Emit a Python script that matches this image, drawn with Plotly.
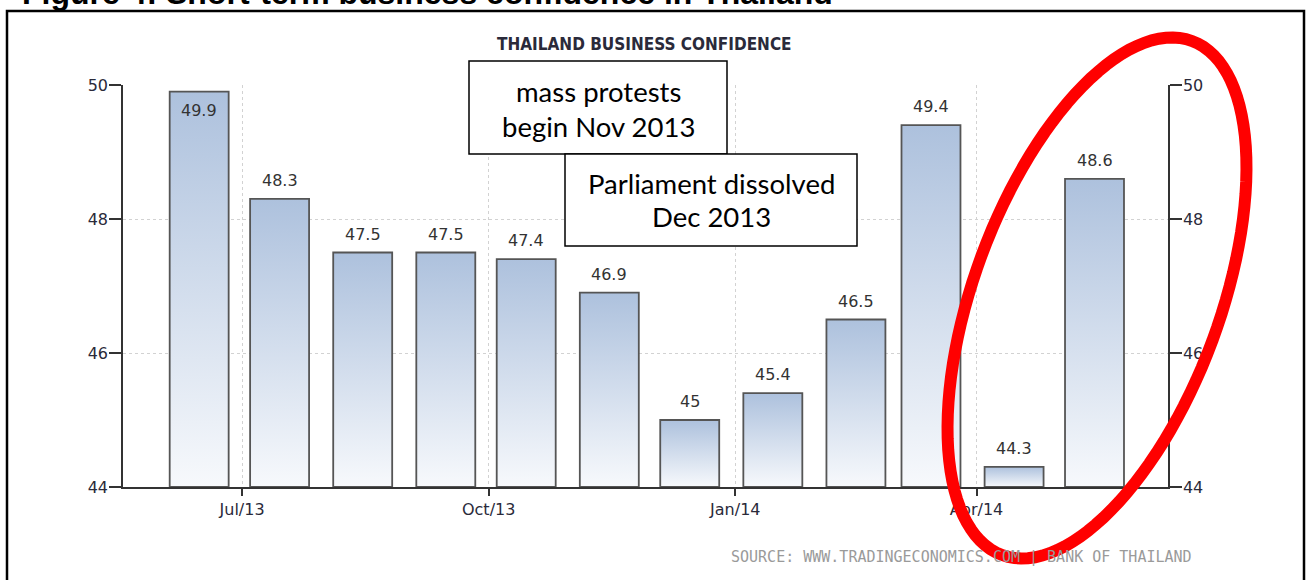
import math
import pandas as pd
import plotly.graph_objects as go

# ---------------- data ----------------
months = ["2013-06-15", "2013-07-15", "2013-08-15", "2013-09-15", "2013-10-15", "2013-11-15",
          "2013-12-15", "2014-01-15", "2014-02-15", "2014-03-15", "2014-04-15", "2014-05-15"]
values = [49.9, 48.3, 47.5, 47.5, 47.4, 46.9, 45.0, 45.4, 46.5, 49.4, 44.3, 48.6]
tick_dates = ["2013-07-01", "2013-10-01", "2014-01-01", "2014-04-01"]
tick_labels = ["Jul/13", "Oct/13", "Jan/14", "Apr/14"]
y_ticks = [44, 46, 48, 50]
chart_title = "THAILAND BUSINESS CONFIDENCE"
figure_heading = "Figure 4: Short-term business confidence in Thailand"
source_text = "SOURCE: WWW.TRADINGECONOMICS.COM | BANK OF THAILAND"
note1 = ["mass protests", "begin Nov 2013"]
note2 = ["Parliament dissolved", "Dec 2013"]

# ---------------- layout geometry ----------------
W, H = 1307, 580
L, R, T, B = 123, 1168, 85, 487
Y0, Y1 = 44, 50
X_RANGE = ["2013-05-17 14:00", "2014-06-11 10:00"]
HALF_BAR = pd.Timedelta(hours=11 * 24)


def xp(px):
    return (px - L) / (R - L)


def yp(py):
    return (B - py) / (B - T)


fig = go.Figure()

# bars drawn as filled polygons with a vertical gradient
for m, v in zip(months, values):
    c = pd.Timestamp(m)
    x0, x1 = c - HALF_BAR, c + HALF_BAR
    fig.add_trace(go.Scatter(
        x=[x0, x0, x1, x1, x0], y=[Y0, v, v, Y0, Y0],
        mode="lines", fill="toself",
        fillgradient=dict(type="vertical",
                          colorscale=[[0, "#f7f9fc"], [1, "#adc1dd"]]),
        line=dict(color="#555555", width=1.8),
        hoverinfo="skip", showlegend=False,
    ))

# invisible trace to anchor the right axis
fig.add_trace(go.Scatter(x=months, y=values, yaxis="y2", mode="markers",
                         marker=dict(opacity=0), hoverinfo="skip", showlegend=False))

# value labels
for i, (m, v) in enumerate(zip(months, values)):
    inside = v > Y1 - 0.3
    fig.add_annotation(
        x=m, y=v, xref="x", yref="y", text=f"{v:g}", showarrow=False,
        yanchor="top" if inside else "bottom", yshift=-7 if inside else 7,
        font=dict(family="DejaVu Sans", size=16, color="#333333"),
    )

tick_font = dict(family="DejaVu Sans", size=16, color="#2a2a3a")
fig.update_layout(
    width=W, height=H,
    margin=dict(l=L, r=W - R, t=T, b=H - B, pad=0),
    paper_bgcolor="white", plot_bgcolor="white",
    xaxis=dict(
        type="date", range=X_RANGE,
        tickvals=tick_dates, ticktext=tick_labels,
        showgrid=True, gridcolor="#d2d2d2", griddash="dot", gridwidth=1,
        showline=True, linecolor="#333333", linewidth=1.5,
        ticks="outside", ticklen=7, tickwidth=1.5, tickcolor="#333333",
        tickfont=tick_font, zeroline=False, fixedrange=True,
    ),
    yaxis=dict(
        range=[Y0, Y1], tickvals=y_ticks,
        showgrid=True, gridcolor="#d2d2d2", griddash="dot", gridwidth=1,
        showline=True, linecolor="#333333", linewidth=1.5,
        ticks="outside", ticklen=12, tickwidth=1.5, tickcolor="#333333",
        ticklabelstandoff=-2,
        tickfont=tick_font, zeroline=False,
    ),
    yaxis2=dict(
        range=[Y0, Y1], tickvals=y_ticks, overlaying="y", side="right",
        showgrid=False, showline=True, linecolor="#333333", linewidth=1.5,
        ticks="outside", ticklen=12, tickwidth=1.5, tickcolor="#333333",
        ticklabelstandoff=-2,
        tickfont=tick_font, zeroline=False,
    ),
    showlegend=False,
)

# chart title
fig.add_annotation(x=xp(644), y=yp(44), xref="paper", yref="paper", text=f"<b>{chart_title}</b>",
                   showarrow=False, xanchor="center", yanchor="middle",
                   font=dict(family="DejaVu Sans Condensed", size=17, color="#2a2a3a"))

# source
fig.add_annotation(x=xp(1194), y=yp(557), xref="paper", yref="paper", text=source_text,
                   showarrow=False, xanchor="right", yanchor="middle",
                   font=dict(family="DejaVu Sans Mono", size=15, color="#9a9a9a"))

# figure heading (partially cut at the top)
fig.add_annotation(x=xp(20), y=yp(-7), xref="paper", yref="paper", text=f"<b>{figure_heading}</b>",
                   showarrow=False, xanchor="left", yanchor="middle",
                   font=dict(family="Liberation Sans", size=32, color="black"))

# outer frame
fig.add_shape(type="rect", xref="paper", yref="paper",
              x0=xp(7), x1=xp(1304), y0=yp(600), y1=yp(11),
              line=dict(color="black", width=2.5), fillcolor="rgba(0,0,0,0)", layer="above")

# note boxes
boxes = [((469, 727, 61, 154), note1, (92, 126)), ((565, 857, 154, 246), note2, (183, 217))]
for (bx0, bx1, by0, by1), lines, ys in boxes:
    fig.add_shape(type="rect", xref="paper", yref="paper",
                  x0=xp(bx0), x1=xp(bx1), y0=yp(by1), y1=yp(by0),
                  line=dict(color="black", width=1.5), fillcolor="white", layer="above")
    for txt, ly in zip(lines, ys):
        fig.add_annotation(x=xp((bx0 + bx1) / 2), y=yp(ly), xref="paper", yref="paper",
                           text=txt, showarrow=False, xanchor="center", yanchor="middle",
                           font=dict(family="Lato", size=27.5, color="black"))

# red ellipse highlight
cx, cy, a, b, phi = 1097, 298, 274, 123, math.radians(20.3)
pts = []
for k in range(121):
    t = 2 * math.pi * k / 120
    px = cx + a * math.sin(t) * math.sin(phi) + b * math.cos(t) * math.cos(phi)
    py = cy - a * math.sin(t) * math.cos(phi) + b * math.cos(t) * math.sin(phi)
    pts.append((xp(px), yp(py)))
path = "M " + " L ".join(f"{x:.5f},{y:.5f}" for x, y in pts) + " Z"
fig.add_shape(type="path", path=path, xref="paper", yref="paper",
              line=dict(color="#ff0000", width=12), layer="above")

fig.write_html("out.html", post_script="document.body.style.margin='0';",
               config={"displayModeBar": False})
